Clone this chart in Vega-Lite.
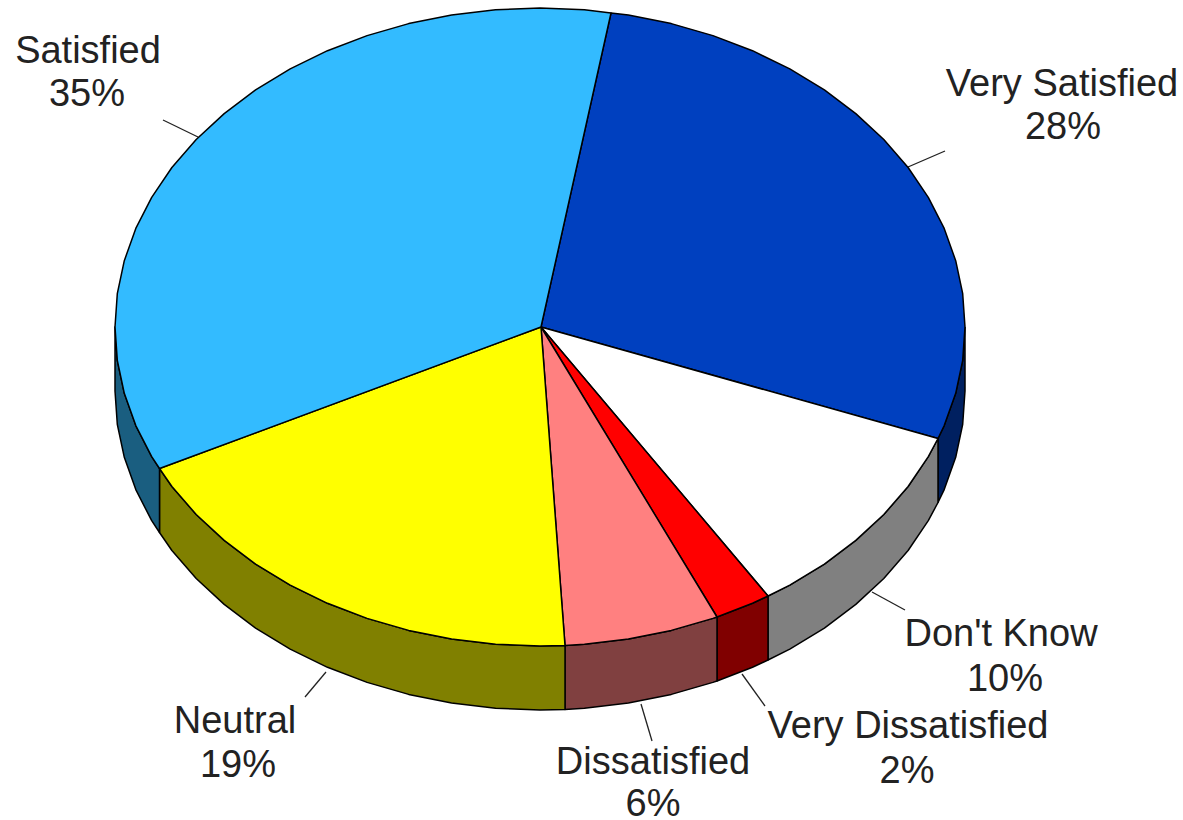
{"$schema":"https://vega.github.io/schema/vega-lite/v6.json","width":1183,"height":820,"padding":0,"autosize":"none","background":"white","view":{"stroke":null},
"datasets":{
"pieces":[
{"piece":"Very Satisfied wall","part":"wall","i":0,"x":965,"y":327},{"piece":"Very Satisfied wall","part":"wall","i":1,"x":962.7,"y":360.3},{"piece":"Very Satisfied wall","part":"wall","i":2,"x":955.7,"y":393.3},{"piece":"Very Satisfied wall","part":"wall","i":3,"x":944.2,"y":425.6},{"piece":"Very Satisfied wall","part":"wall","i":4,"x":938,"y":438.5},{"piece":"Very Satisfied wall","part":"wall","i":5,"x":938,"y":502.5},{"piece":"Very Satisfied wall","part":"wall","i":6,"x":944.2,"y":489.6},{"piece":"Very Satisfied wall","part":"wall","i":7,"x":955.7,"y":457.3},{"piece":"Very Satisfied wall","part":"wall","i":8,"x":962.7,"y":424.3},{"piece":"Very Satisfied wall","part":"wall","i":9,"x":965,"y":391},{"piece":"Very Satisfied wall","part":"wall","i":10,"x":965,"y":327},
{"piece":"Don't Know wall","part":"wall","i":0,"x":938,"y":438.5},{"piece":"Don't Know wall","part":"wall","i":1,"x":928.3,"y":456.7},{"piece":"Don't Know wall","part":"wall","i":2,"x":908.1,"y":486.5},{"piece":"Don't Know wall","part":"wall","i":3,"x":883.8,"y":514.5},{"piece":"Don't Know wall","part":"wall","i":4,"x":855.8,"y":540.4},{"piece":"Don't Know wall","part":"wall","i":5,"x":824.4,"y":564.1},{"piece":"Don't Know wall","part":"wall","i":6,"x":789.8,"y":585.1},{"piece":"Don't Know wall","part":"wall","i":7,"x":768,"y":596},{"piece":"Don't Know wall","part":"wall","i":8,"x":768,"y":660},{"piece":"Don't Know wall","part":"wall","i":9,"x":789.8,"y":649.1},{"piece":"Don't Know wall","part":"wall","i":10,"x":824.4,"y":628.1},{"piece":"Don't Know wall","part":"wall","i":11,"x":855.8,"y":604.4},{"piece":"Don't Know wall","part":"wall","i":12,"x":883.8,"y":578.5},{"piece":"Don't Know wall","part":"wall","i":13,"x":908.1,"y":550.5},{"piece":"Don't Know wall","part":"wall","i":14,"x":928.3,"y":520.7},{"piece":"Don't Know wall","part":"wall","i":15,"x":938,"y":502.5},{"piece":"Don't Know wall","part":"wall","i":16,"x":938,"y":438.5},
{"piece":"Very Dissatisfied wall","part":"wall","i":0,"x":768,"y":596},{"piece":"Very Dissatisfied wall","part":"wall","i":1,"x":752.5,"y":603.3},{"piece":"Very Dissatisfied wall","part":"wall","i":2,"x":717,"y":617},{"piece":"Very Dissatisfied wall","part":"wall","i":3,"x":717,"y":681},{"piece":"Very Dissatisfied wall","part":"wall","i":4,"x":752.5,"y":667.3},{"piece":"Very Dissatisfied wall","part":"wall","i":5,"x":768,"y":660},{"piece":"Very Dissatisfied wall","part":"wall","i":6,"x":768,"y":596},
{"piece":"Dissatisfied wall","part":"wall","i":0,"x":717,"y":617},{"piece":"Dissatisfied wall","part":"wall","i":1,"x":712.9,"y":618.4},{"piece":"Dissatisfied wall","part":"wall","i":2,"x":671.3,"y":630.4},{"piece":"Dissatisfied wall","part":"wall","i":3,"x":628.4,"y":639},{"piece":"Dissatisfied wall","part":"wall","i":4,"x":584.4,"y":644.2},{"piece":"Dissatisfied wall","part":"wall","i":5,"x":565,"y":645.4},{"piece":"Dissatisfied wall","part":"wall","i":6,"x":565,"y":709.4},{"piece":"Dissatisfied wall","part":"wall","i":7,"x":584.4,"y":708.2},{"piece":"Dissatisfied wall","part":"wall","i":8,"x":628.4,"y":703},{"piece":"Dissatisfied wall","part":"wall","i":9,"x":671.3,"y":694.4},{"piece":"Dissatisfied wall","part":"wall","i":10,"x":712.9,"y":682.4},{"piece":"Dissatisfied wall","part":"wall","i":11,"x":717,"y":681},{"piece":"Dissatisfied wall","part":"wall","i":12,"x":717,"y":617},
{"piece":"Neutral wall","part":"wall","i":0,"x":565,"y":645.4},{"piece":"Neutral wall","part":"wall","i":1,"x":540,"y":646},{"piece":"Neutral wall","part":"wall","i":2,"x":495.6,"y":644.2},{"piece":"Neutral wall","part":"wall","i":3,"x":451.6,"y":639},{"piece":"Neutral wall","part":"wall","i":4,"x":408.7,"y":630.4},{"piece":"Neutral wall","part":"wall","i":5,"x":367.1,"y":618.4},{"piece":"Neutral wall","part":"wall","i":6,"x":327.5,"y":603.3},{"piece":"Neutral wall","part":"wall","i":7,"x":290.2,"y":585.1},{"piece":"Neutral wall","part":"wall","i":8,"x":255.6,"y":564.1},{"piece":"Neutral wall","part":"wall","i":9,"x":224.2,"y":540.4},{"piece":"Neutral wall","part":"wall","i":10,"x":196.2,"y":514.5},{"piece":"Neutral wall","part":"wall","i":11,"x":171.9,"y":486.5},{"piece":"Neutral wall","part":"wall","i":12,"x":159.5,"y":468.5},{"piece":"Neutral wall","part":"wall","i":13,"x":159.5,"y":532.5},{"piece":"Neutral wall","part":"wall","i":14,"x":171.9,"y":550.5},{"piece":"Neutral wall","part":"wall","i":15,"x":196.2,"y":578.5},{"piece":"Neutral wall","part":"wall","i":16,"x":224.2,"y":604.4},{"piece":"Neutral wall","part":"wall","i":17,"x":255.6,"y":628.1},{"piece":"Neutral wall","part":"wall","i":18,"x":290.2,"y":649.1},{"piece":"Neutral wall","part":"wall","i":19,"x":327.5,"y":667.3},{"piece":"Neutral wall","part":"wall","i":20,"x":367.1,"y":682.4},{"piece":"Neutral wall","part":"wall","i":21,"x":408.7,"y":694.4},{"piece":"Neutral wall","part":"wall","i":22,"x":451.6,"y":703},{"piece":"Neutral wall","part":"wall","i":23,"x":495.6,"y":708.2},{"piece":"Neutral wall","part":"wall","i":24,"x":540,"y":710},{"piece":"Neutral wall","part":"wall","i":25,"x":565,"y":709.4},{"piece":"Neutral wall","part":"wall","i":26,"x":565,"y":645.4},
{"piece":"Satisfied wall","part":"wall","i":0,"x":159.5,"y":468.5},{"piece":"Satisfied wall","part":"wall","i":1,"x":151.7,"y":456.7},{"piece":"Satisfied wall","part":"wall","i":2,"x":135.8,"y":425.6},{"piece":"Satisfied wall","part":"wall","i":3,"x":124.3,"y":393.3},{"piece":"Satisfied wall","part":"wall","i":4,"x":117.3,"y":360.3},{"piece":"Satisfied wall","part":"wall","i":5,"x":115,"y":327},{"piece":"Satisfied wall","part":"wall","i":6,"x":115,"y":391},{"piece":"Satisfied wall","part":"wall","i":7,"x":117.3,"y":424.3},{"piece":"Satisfied wall","part":"wall","i":8,"x":124.3,"y":457.3},{"piece":"Satisfied wall","part":"wall","i":9,"x":135.8,"y":489.6},{"piece":"Satisfied wall","part":"wall","i":10,"x":151.7,"y":520.7},{"piece":"Satisfied wall","part":"wall","i":11,"x":159.5,"y":532.5},{"piece":"Satisfied wall","part":"wall","i":12,"x":159.5,"y":468.5},
{"piece":"Very Satisfied top","part":"top","i":0,"x":541,"y":327},{"piece":"Very Satisfied top","part":"top","i":1,"x":611,"y":13},{"piece":"Very Satisfied top","part":"top","i":2,"x":628.4,"y":15},{"piece":"Very Satisfied top","part":"top","i":3,"x":671.3,"y":23.6},{"piece":"Very Satisfied top","part":"top","i":4,"x":712.9,"y":35.6},{"piece":"Very Satisfied top","part":"top","i":5,"x":752.5,"y":50.7},{"piece":"Very Satisfied top","part":"top","i":6,"x":789.8,"y":68.9},{"piece":"Very Satisfied top","part":"top","i":7,"x":824.4,"y":89.9},{"piece":"Very Satisfied top","part":"top","i":8,"x":855.8,"y":113.6},{"piece":"Very Satisfied top","part":"top","i":9,"x":883.8,"y":139.5},{"piece":"Very Satisfied top","part":"top","i":10,"x":908.1,"y":167.5},{"piece":"Very Satisfied top","part":"top","i":11,"x":928.3,"y":197.3},{"piece":"Very Satisfied top","part":"top","i":12,"x":944.2,"y":228.4},{"piece":"Very Satisfied top","part":"top","i":13,"x":955.7,"y":260.7},{"piece":"Very Satisfied top","part":"top","i":14,"x":962.7,"y":293.7},{"piece":"Very Satisfied top","part":"top","i":15,"x":965,"y":327},{"piece":"Very Satisfied top","part":"top","i":16,"x":962.7,"y":360.3},{"piece":"Very Satisfied top","part":"top","i":17,"x":955.7,"y":393.3},{"piece":"Very Satisfied top","part":"top","i":18,"x":944.2,"y":425.6},{"piece":"Very Satisfied top","part":"top","i":19,"x":938,"y":438.5},{"piece":"Very Satisfied top","part":"top","i":20,"x":541,"y":327},
{"piece":"Don't Know top","part":"top","i":0,"x":541,"y":327},{"piece":"Don't Know top","part":"top","i":1,"x":938,"y":438.5},{"piece":"Don't Know top","part":"top","i":2,"x":928.3,"y":456.7},{"piece":"Don't Know top","part":"top","i":3,"x":908.1,"y":486.5},{"piece":"Don't Know top","part":"top","i":4,"x":883.8,"y":514.5},{"piece":"Don't Know top","part":"top","i":5,"x":855.8,"y":540.4},{"piece":"Don't Know top","part":"top","i":6,"x":824.4,"y":564.1},{"piece":"Don't Know top","part":"top","i":7,"x":789.8,"y":585.1},{"piece":"Don't Know top","part":"top","i":8,"x":768,"y":596},{"piece":"Don't Know top","part":"top","i":9,"x":541,"y":327},
{"piece":"Very Dissatisfied top","part":"top","i":0,"x":541,"y":327},{"piece":"Very Dissatisfied top","part":"top","i":1,"x":768,"y":596},{"piece":"Very Dissatisfied top","part":"top","i":2,"x":752.5,"y":603.3},{"piece":"Very Dissatisfied top","part":"top","i":3,"x":717,"y":617},{"piece":"Very Dissatisfied top","part":"top","i":4,"x":541,"y":327},
{"piece":"Dissatisfied top","part":"top","i":0,"x":541,"y":327},{"piece":"Dissatisfied top","part":"top","i":1,"x":717,"y":617},{"piece":"Dissatisfied top","part":"top","i":2,"x":712.9,"y":618.4},{"piece":"Dissatisfied top","part":"top","i":3,"x":671.3,"y":630.4},{"piece":"Dissatisfied top","part":"top","i":4,"x":628.4,"y":639},{"piece":"Dissatisfied top","part":"top","i":5,"x":584.4,"y":644.2},{"piece":"Dissatisfied top","part":"top","i":6,"x":565,"y":645.4},{"piece":"Dissatisfied top","part":"top","i":7,"x":541,"y":327},
{"piece":"Neutral top","part":"top","i":0,"x":541,"y":327},{"piece":"Neutral top","part":"top","i":1,"x":565,"y":645.4},{"piece":"Neutral top","part":"top","i":2,"x":540,"y":646},{"piece":"Neutral top","part":"top","i":3,"x":495.6,"y":644.2},{"piece":"Neutral top","part":"top","i":4,"x":451.6,"y":639},{"piece":"Neutral top","part":"top","i":5,"x":408.7,"y":630.4},{"piece":"Neutral top","part":"top","i":6,"x":367.1,"y":618.4},{"piece":"Neutral top","part":"top","i":7,"x":327.5,"y":603.3},{"piece":"Neutral top","part":"top","i":8,"x":290.2,"y":585.1},{"piece":"Neutral top","part":"top","i":9,"x":255.6,"y":564.1},{"piece":"Neutral top","part":"top","i":10,"x":224.2,"y":540.4},{"piece":"Neutral top","part":"top","i":11,"x":196.2,"y":514.5},{"piece":"Neutral top","part":"top","i":12,"x":171.9,"y":486.5},{"piece":"Neutral top","part":"top","i":13,"x":159.5,"y":468.5},{"piece":"Neutral top","part":"top","i":14,"x":541,"y":327},
{"piece":"Satisfied top","part":"top","i":0,"x":541,"y":327},{"piece":"Satisfied top","part":"top","i":1,"x":159.5,"y":468.5},{"piece":"Satisfied top","part":"top","i":2,"x":151.7,"y":456.7},{"piece":"Satisfied top","part":"top","i":3,"x":135.8,"y":425.6},{"piece":"Satisfied top","part":"top","i":4,"x":124.3,"y":393.3},{"piece":"Satisfied top","part":"top","i":5,"x":117.3,"y":360.3},{"piece":"Satisfied top","part":"top","i":6,"x":115,"y":327},{"piece":"Satisfied top","part":"top","i":7,"x":117.3,"y":293.7},{"piece":"Satisfied top","part":"top","i":8,"x":124.3,"y":260.7},{"piece":"Satisfied top","part":"top","i":9,"x":135.8,"y":228.4},{"piece":"Satisfied top","part":"top","i":10,"x":151.7,"y":197.3},{"piece":"Satisfied top","part":"top","i":11,"x":171.9,"y":167.5},{"piece":"Satisfied top","part":"top","i":12,"x":196.2,"y":139.5},{"piece":"Satisfied top","part":"top","i":13,"x":224.2,"y":113.6},{"piece":"Satisfied top","part":"top","i":14,"x":255.6,"y":89.9},{"piece":"Satisfied top","part":"top","i":15,"x":290.2,"y":68.9},{"piece":"Satisfied top","part":"top","i":16,"x":327.5,"y":50.7},{"piece":"Satisfied top","part":"top","i":17,"x":367.1,"y":35.6},{"piece":"Satisfied top","part":"top","i":18,"x":408.7,"y":23.6},{"piece":"Satisfied top","part":"top","i":19,"x":451.6,"y":15},{"piece":"Satisfied top","part":"top","i":20,"x":495.6,"y":9.8},{"piece":"Satisfied top","part":"top","i":21,"x":540,"y":8},{"piece":"Satisfied top","part":"top","i":22,"x":584.4,"y":9.8},{"piece":"Satisfied top","part":"top","i":23,"x":611,"y":13},{"piece":"Satisfied top","part":"top","i":24,"x":541,"y":327}
],
"leaders":[
{"label":"Satisfied","x":163,"y":120,"x2":198,"y2":137},{"label":"Very Satisfied","x":908,"y":167,"x2":945,"y2":151},{"label":"Don't Know","x":872,"y":592,"x2":905,"y2":610},{"label":"Very Dissatisfied","x":742,"y":674,"x2":765,"y2":706},{"label":"Dissatisfied","x":641,"y":704,"x2":652,"y2":741},{"label":"Neutral","x":305,"y":697,"x2":326,"y2":672}
],
"labels":[
{"text":"Satisfied","x":88,"y":52},{"text":"35%","x":87,"y":95},{"text":"Very Satisfied","x":1062,"y":85},{"text":"28%","x":1063,"y":128},{"text":"Don't Know","x":1001,"y":635},{"text":"10%","x":1005,"y":680},{"text":"Very Dissatisfied","x":908,"y":727},{"text":"2%","x":907,"y":772},{"text":"Dissatisfied","x":653,"y":763},{"text":"6%","x":653,"y":805},{"text":"Neutral","x":235,"y":722},{"text":"19%","x":238,"y":766}
]},
"layer":[
{"data":{"name":"leaders"},"mark":{"type":"rule","stroke":"#222222","strokeWidth":1.3},"encoding":{"x":{"field":"x","type":"quantitative","scale":{"domain":[0,1183],"nice":false},"axis":null},"y":{"field":"y","type":"quantitative","scale":{"domain":[820,0],"nice":false},"axis":null},"x2":{"field":"x2"},"y2":{"field":"y2"}}},
{"data":{"name":"pieces"},"transform":[{"filter":"datum.part === 'wall'"}],"mark":{"type":"line","stroke":"black","strokeWidth":1.5,"strokeJoin":"round"},"encoding":{"x":{"field":"x","type":"quantitative","scale":{"domain":[0,1183],"nice":false},"axis":null},"y":{"field":"y","type":"quantitative","scale":{"domain":[820,0],"nice":false},"axis":null},"order":{"field":"i","type":"quantitative"},"fill":{"field":"piece","type":"nominal","legend":null,"scale":{"domain":["Very Satisfied wall","Don't Know wall","Very Dissatisfied wall","Dissatisfied wall","Neutral wall","Satisfied wall","Very Satisfied top","Don't Know top","Very Dissatisfied top","Dissatisfied top","Neutral top","Satisfied top"],"range":["#002060","#808080","#800000","#804040","#808000","#1A5E80","#0040BF","#FFFFFF","#FF0000","#FF8080","#FFFF00","#33BBFF"]}}}},
{"data":{"name":"pieces"},"transform":[{"filter":"datum.part === 'top'"}],"mark":{"type":"line","stroke":"black","strokeWidth":1.5,"strokeJoin":"round"},"encoding":{"x":{"field":"x","type":"quantitative","scale":{"domain":[0,1183],"nice":false},"axis":null},"y":{"field":"y","type":"quantitative","scale":{"domain":[820,0],"nice":false},"axis":null},"order":{"field":"i","type":"quantitative"},"fill":{"field":"piece","type":"nominal","legend":null,"scale":{"domain":["Very Satisfied wall","Don't Know wall","Very Dissatisfied wall","Dissatisfied wall","Neutral wall","Satisfied wall","Very Satisfied top","Don't Know top","Very Dissatisfied top","Dissatisfied top","Neutral top","Satisfied top"],"range":["#002060","#808080","#800000","#804040","#808000","#1A5E80","#0040BF","#FFFFFF","#FF0000","#FF8080","#FFFF00","#33BBFF"]}}}},
{"data":{"name":"labels"},"mark":{"type":"text","font":"Liberation Sans","fontSize":38,"fill":"#222222","align":"center","baseline":"middle"},"encoding":{"x":{"field":"x","type":"quantitative","scale":{"domain":[0,1183],"nice":false},"axis":null},"y":{"field":"y","type":"quantitative","scale":{"domain":[820,0],"nice":false},"axis":null},"text":{"field":"text","type":"nominal"}}}
]}
